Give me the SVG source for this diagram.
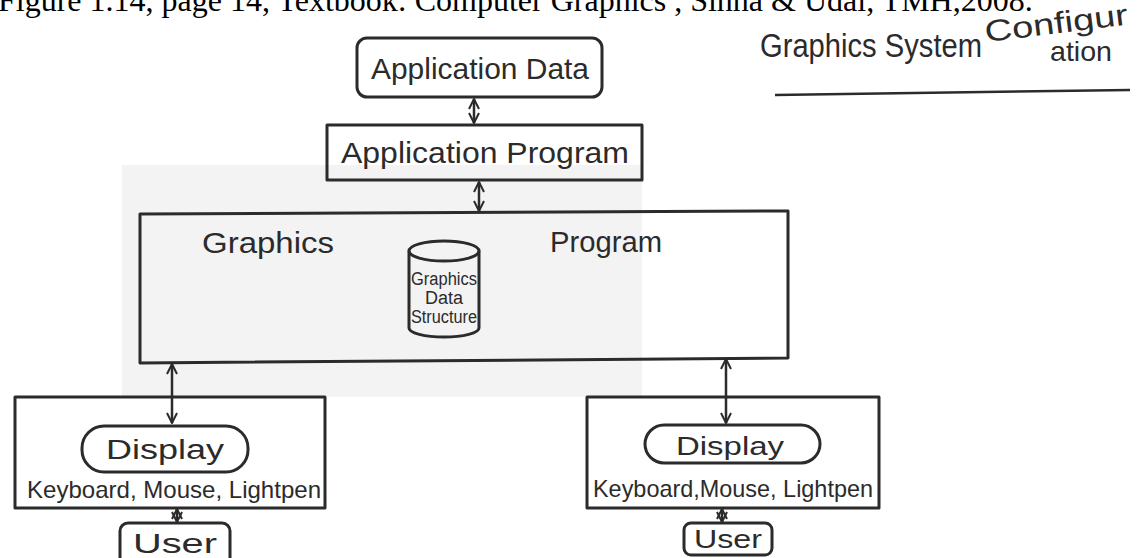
<svg xmlns="http://www.w3.org/2000/svg" width="1139" height="558" viewBox="0 0 1139 558">
<style>
.bg{fill:#ffffff}
.patch{fill:#f3f3f3}
.box{fill:none;stroke:#2b2b2b;stroke-width:3;stroke-linejoin:round}
.hand{font-family:"Liberation Sans",Arial,sans-serif;fill:#2b2b2b}
.cap{font-family:"Liberation Serif","Times New Roman",serif;fill:#000}
.conn{fill:none;stroke:#2b2b2b;stroke-width:2.5}
</style>
<defs>
<marker id="ah" viewBox="0 0 12 12" refX="11" refY="6" markerWidth="12" markerHeight="12" markerUnits="userSpaceOnUse" orient="auto-start-reverse">
<path d="M1,1 L11,6 L1,11" fill="none" stroke="#2b2b2b" stroke-width="2"/>
</marker>
</defs>
<rect class="bg" x="0" y="0" width="1139" height="558"/>
<rect class="patch" x="122" y="165" width="520" height="232"/>

<text class="cap" x="-2" y="11" font-size="32">Figure 1.14, page 14, Textbook: Computer Graphics , Sinha &amp; Udai, TMH,2008.</text>

<g id="title">
<text class="hand" x="760" y="57" font-size="34" textLength="222" lengthAdjust="spacingAndGlyphs">Graphics System</text>
<text class="hand" x="986" y="42" font-size="30" textLength="144" lengthAdjust="spacingAndGlyphs" transform="rotate(-7 986 42)">Configur</text>
<text class="hand" x="1050" y="61" font-size="28" textLength="62" lengthAdjust="spacingAndGlyphs">ation</text>
<path d="M775,95 L1130,90" stroke="#2b2b2b" stroke-width="2.5" fill="none"/>
</g>

<g id="app-data">
<rect class="box" x="357" y="38" width="245" height="59" rx="10"/>
<text class="hand" x="480" y="79" font-size="29" text-anchor="middle" textLength="218" lengthAdjust="spacingAndGlyphs">Application Data</text>
</g>

<g id="app-program">
<rect class="box" x="327" y="125" width="315" height="55"/>
<text class="hand" x="485" y="163" font-size="29" text-anchor="middle" textLength="288" lengthAdjust="spacingAndGlyphs">Application Program</text>
</g>

<g id="graphics-program">
<path class="box" d="M140,214 L788,211 L788,358 L140,363 Z"/>
<text class="hand" x="202" y="253" font-size="30" textLength="132" lengthAdjust="spacingAndGlyphs">Graphics</text>
<text class="hand" x="550" y="252" font-size="30" textLength="112" lengthAdjust="spacingAndGlyphs">Program</text>
</g>

<g id="graphics-data-structure">
<path class="box" d="M409,251 L409,328 A35,9 0 0 0 479,328 L479,251"/>
<ellipse class="box" cx="444" cy="251" rx="35" ry="10"/>
<text class="hand" x="444" y="285" font-size="18" text-anchor="middle" textLength="66" lengthAdjust="spacingAndGlyphs">Graphics</text>
<text class="hand" x="444" y="304" font-size="18" text-anchor="middle">Data</text>
<text class="hand" x="444" y="323" font-size="18" text-anchor="middle" textLength="66" lengthAdjust="spacingAndGlyphs">Structure</text>
</g>

<g id="left-station">
<rect class="box" x="15" y="397" width="310" height="111"/>
<rect class="box" x="82" y="426" width="166" height="46" rx="22"/>
<text class="hand" x="165" y="459" font-size="27" text-anchor="middle" textLength="118" lengthAdjust="spacingAndGlyphs">Display</text>
<text class="hand" x="27" y="498" font-size="24" textLength="294" lengthAdjust="spacingAndGlyphs">Keyboard, Mouse, Lightpen</text>
</g>
<g id="left-user">
<rect class="box" x="120" y="523" width="110" height="45" rx="8"/>
<text class="hand" x="175" y="553" font-size="27" text-anchor="middle" textLength="84" lengthAdjust="spacingAndGlyphs">User</text>
</g>

<g id="right-station">
<rect class="box" x="587" y="397" width="292" height="111"/>
<rect class="box" x="645" y="425" width="175" height="38" rx="19"/>
<text class="hand" x="730" y="455" font-size="26" text-anchor="middle" textLength="108" lengthAdjust="spacingAndGlyphs">Display</text>
<text class="hand" x="593" y="497" font-size="24" textLength="280" lengthAdjust="spacingAndGlyphs">Keyboard,Mouse, Lightpen</text>
</g>
<g id="right-user">
<rect class="box" x="684" y="523" width="88" height="32" rx="7"/>
<text class="hand" x="728" y="548" font-size="25" text-anchor="middle" textLength="68" lengthAdjust="spacingAndGlyphs">User</text>
</g>

<g id="connectors">
<line class="conn" x1="474" y1="99" x2="474" y2="123" marker-start="url(#ah)" marker-end="url(#ah)"/>
<line class="conn" x1="479" y1="182" x2="479" y2="211" marker-start="url(#ah)" marker-end="url(#ah)"/>
<line class="conn" x1="172" y1="364" x2="172" y2="423" marker-start="url(#ah)" marker-end="url(#ah)"/>
<line class="conn" x1="726" y1="359" x2="726" y2="423" marker-start="url(#ah)" marker-end="url(#ah)"/>
<line class="conn" x1="177" y1="509" x2="177" y2="522" marker-start="url(#ah)" marker-end="url(#ah)"/>
<line class="conn" x1="722" y1="509" x2="722" y2="522" marker-start="url(#ah)" marker-end="url(#ah)"/>
</g>
</svg>
